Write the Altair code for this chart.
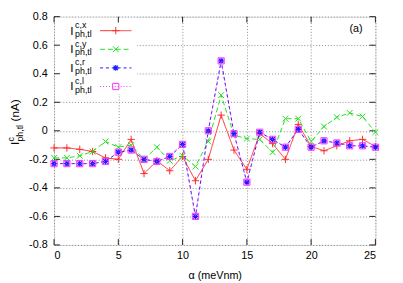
import altair as alt
import pandas as pd

alpha = list(range(26))
i_x = [-0.12, -0.12, -0.13, -0.145, -0.19, -0.2, -0.06, -0.30, -0.21, -0.28, -0.18, -0.35, -0.2,
       0.11, -0.135, -0.27, -0.02, -0.09, -0.2, 0.045, -0.11, -0.14, -0.105, -0.07, -0.06, -0.11]
i_y = [-0.19, -0.19, -0.175, -0.145, -0.075, -0.115, -0.1, -0.2, -0.115, -0.21, -0.175, -0.25, -0.075,
       0.25, -0.03, -0.055, -0.06, -0.15, 0.085, 0.085, -0.075, 0.03, 0.095, 0.125, 0.1, -0.01]
i_r = [-0.23, -0.23, -0.23, -0.23, -0.215, -0.15, -0.135, -0.2, -0.215, -0.18, -0.095, -0.6, 0.0,
       0.49, -0.02, -0.36, -0.01, -0.06, -0.115, 0.01, -0.115, -0.07, -0.085, -0.105, -0.105, -0.115]
i_l = [-0.23, -0.23, -0.23, -0.23, -0.215, -0.15, -0.135, -0.2, -0.215, -0.18, -0.095, -0.6, 0.0,
       0.49, -0.02, -0.36, -0.01, -0.06, -0.115, 0.01, -0.115, -0.07, -0.085, -0.105, -0.105, -0.115]

x_ticks = [0, 5, 10, 15, 20, 25]
y_ticks = [-0.8, -0.6, -0.4, -0.2, 0, 0.2, 0.4, 0.6, 0.8]
sup_labels = ["c,x", "c,y", "c,r", "c,l"]

FONT = "Liberation Sans"
W, H = 328, 233

PLUS = "M-1,0L1,0M0,-1L0,1"
CROSS = "M-1,-1L1,1M-1,1L1,-1"
STAR = "M-1,0L1,0M0,-1L0,1M-0.75,-0.75L0.75,0.75M-0.75,0.75L0.75,-0.75"

series = [
    dict(vals=i_x, color="#ff2a2a", dash=[1, 0], shape=PLUS, size=56, sw=1.0),
    dict(vals=i_y, color="#22dd22", dash=[5, 3], shape=CROSS, size=36, sw=1.0),
    dict(vals=i_r, color="#1a1aff", dash=[3, 3], shape=STAR, size=36, sw=1.2),
    dict(vals=i_l, color="#ff30ff", dash=[1, 2], shape="square", size=40, sw=1.0),
]

xs = alt.Scale(domain=[0, 25], nice=False, zero=False)
ys = alt.Scale(domain=[-0.8, 0.8], nice=False, zero=False)

x_axis = alt.Axis(
    values=x_ticks, title="α (meVnm)", grid=True, ticks=False, domain=False,
    labelPadding=5, titlePadding=9, labelFontSize=11, titleFontSize=11, labelOverlap=False,
    labelFont=FONT, titleFont=FONT, titleFontWeight="normal", labelColor="#000", titleColor="#000",
    gridDash=[1, 2], gridColor="#888", gridWidth=1)
y_axis = alt.Axis(
    values=y_ticks, title=None, grid=True, ticks=False, domain=False, labelOverlap=False,
    labelPadding=7, labelFontSize=11, labelFont=FONT, labelColor="#000",
    labelExpr="datum.value == 0 ? '0' : (datum.value < 0 ? '-' : '') + format(abs(datum.value), '.1f')",
    gridDash=[1, 2], gridColor="#888", gridWidth=1)


def X(field="a"):
    return alt.X(field + ":Q", scale=xs, axis=x_axis)


def Y(field="v"):
    return alt.Y(field + ":Q", scale=ys, axis=y_axis)


layers = []

grid_df = pd.DataFrame({"a": alpha, "v": i_x})
layers.append(alt.Chart(grid_df).mark_point(opacity=0).encode(x=X(), y=Y()))

# opaque key box
layers.append(alt.Chart(pd.DataFrame({"k": [0]})).mark_rect(color="white").encode(
    x=alt.value(1), x2=alt.value(85), y=alt.value(1), y2=alt.value(79)))

# ticks (inward, mirrored)
xt = pd.DataFrame({"a": x_ticks})
yt = pd.DataFrame({"v": y_ticks})
tick_style = dict(color="#222", strokeWidth=1)
layers.append(alt.Chart(xt).mark_rule(**tick_style).encode(
    x=X(), y=alt.value(H), y2=alt.value(H - 6)))
layers.append(alt.Chart(xt).mark_rule(**tick_style).encode(
    x=X(), y=alt.value(0), y2=alt.value(6)))
layers.append(alt.Chart(yt).mark_rule(**tick_style).encode(
    y=Y(), x=alt.value(0), x2=alt.value(6)))
layers.append(alt.Chart(yt).mark_rule(**tick_style).encode(
    y=Y(), x=alt.value(W), x2=alt.value(W - 6)))

# data series
for s in series:
    df = pd.DataFrame({"a": alpha, "v": s["vals"]})
    layers.append(alt.Chart(df).mark_line(color=s["color"], strokeWidth=1, strokeDash=s["dash"]).encode(
        x=X(), y=Y()))
    layers.append(alt.Chart(df).mark_point(color=s["color"], filled=False, shape=s["shape"],
                                           size=s["size"], strokeWidth=s["sw"], opacity=1).encode(
        x=X(), y=Y()))

# key entries
key_y = [14.3, 33.3, 52.3, 71.3]
one = pd.DataFrame({"k": [0]})
for s, ky, sup in zip(series, key_y, sup_labels):
    layers.append(alt.Chart(one).mark_rule(color=s["color"], strokeWidth=1, strokeDash=s["dash"]).encode(
        x=alt.value(47), x2=alt.value(79), y=alt.value(ky)))
    layers.append(alt.Chart(one).mark_point(color=s["color"], filled=False, shape=s["shape"],
                                            size=s["size"], strokeWidth=s["sw"], opacity=1).encode(
        x=alt.value(63), y=alt.value(ky)))
    layers.append(alt.Chart(one).mark_text(text="I", font=FONT, fontSize=12, align="left",
                                           baseline="alphabetic", color="#000").encode(
        x=alt.value(16.5), y=alt.value(ky + 4)))
    layers.append(alt.Chart(one).mark_text(text=sup, font=FONT, fontSize=9, align="left",
                                           baseline="alphabetic", color="#000").encode(
        x=alt.value(21.5), y=alt.value(ky - 2.6)))
    layers.append(alt.Chart(one).mark_text(text="ph,tl", font=FONT, fontSize=9, align="left",
                                           baseline="alphabetic", color="#000").encode(
        x=alt.value(21.5), y=alt.value(ky + 6.2)))

# (a) label
layers.append(alt.Chart(one).mark_text(text="(a)", font=FONT, fontSize=11, align="right",
                                       baseline="alphabetic", color="#000").encode(
    x=alt.value(315), y=alt.value(15.5)))

# y-axis title pieces (rotated)
ytitle = [
    ("I", 12, -35.5, 131),
    ("c", 9, -40.5, 127.5),
    ("ph,tl", 9, -32, 127.5),
    ("(nA)", 12, -35.5, 107),
]
for txt, fs, xx, yy in ytitle:
    layers.append(alt.Chart(one).mark_text(text=txt, font=FONT, fontSize=fs, align="left",
                                           baseline="alphabetic", angle=270, color="#000").encode(
        x=alt.value(xx), y=alt.value(yy)))

chart = alt.layer(*layers).properties(
    width=W, height=H,
    autosize=alt.AutoSizeParams(type="none"),
    padding={"left": 47, "top": 6, "right": 20, "bottom": 36},
).configure_view(stroke="#222", strokeWidth=1.3).configure(background="white")

chart.save("out.html", embed_options={"renderer": "svg", "actions": False})
